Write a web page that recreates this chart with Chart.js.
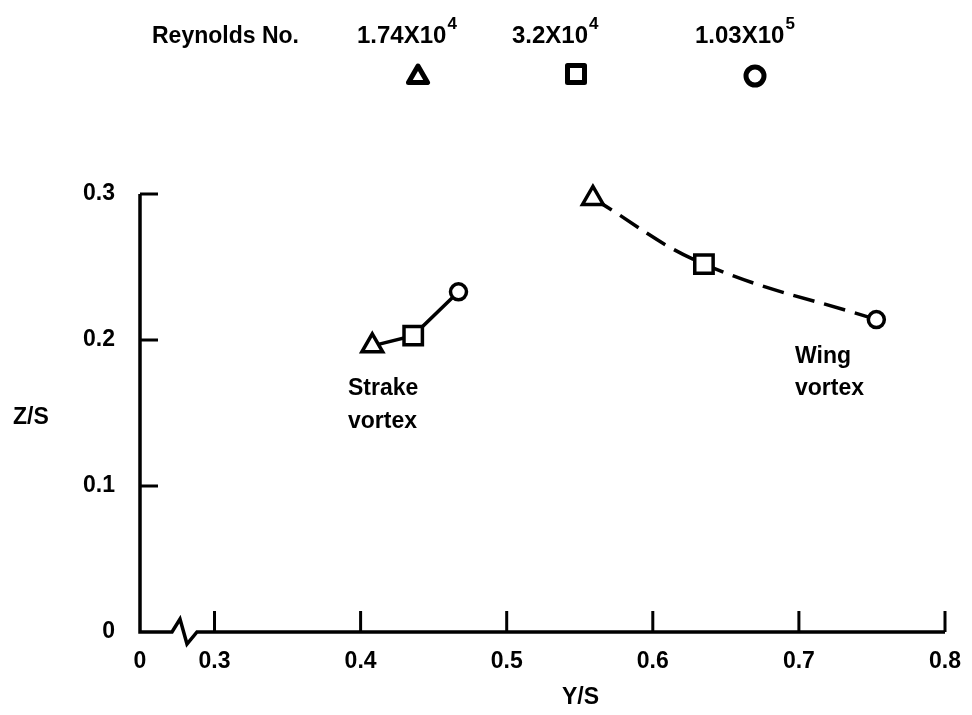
<!DOCTYPE html>
<html>
<head>
<meta charset="utf-8">
<script src="https://cdn.jsdelivr.net/npm/chart.js@4/dist/chart.umd.min.js"></script>
<style>
html, body { margin: 0; padding: 0; background: #fff; }
#wrap { width: 972px; height: 715px; position: relative; }
</style>
</head>
<body>
<div id="wrap"><canvas id="chart"></canvas></div>
<script>
// Reynolds numbers shown in the legend, one marker each
var reynoldsBase = ["1.74X10", "3.2X10", "1.03X10"];
var reynoldsExp = ["4", "4", "5"];
var markerStyles = ["triangle", "rect", "circle"];

// vortex core positions (Y/S, Z/S), one point per Reynolds number
var strakeY = [0.408, 0.436, 0.467];
var strakeZ = [0.196, 0.203, 0.233];
var wingY = [0.559, 0.635, 0.753];
var wingZ = [0.297, 0.252, 0.214];

// axis ticks; x axis is broken, "0" sits at the break start
var xBreakValue = 0.249;
var xTicks = [0.3, 0.4, 0.5, 0.6, 0.7, 0.8];
var yTicks = [0, 0.1, 0.2, 0.3];

var FONT = '"Liberation Sans", Arial, Helvetica, sans-serif';

function toPoints(xs, ys) {
    return xs.map(function (x, i) { return { x: x, y: ys[i] }; });
}

function drawMarker(ctx, style, x, y, r, lw) {
    ctx.save();
    ctx.lineWidth = lw;
    ctx.strokeStyle = "#000";
    ctx.fillStyle = "#fff";
    ctx.lineJoin = "round";
    ctx.beginPath();
    if (style === "triangle") {
        for (var i = 0; i < 3; i++) {
            var a = i * 2 * Math.PI / 3;
            var px = x + Math.sin(a) * r, py = y - Math.cos(a) * r;
            if (i) ctx.lineTo(px, py); else ctx.moveTo(px, py);
        }
        ctx.closePath();
    } else if (style === "rect") {
        ctx.rect(x - r, y - r, 2 * r, 2 * r);
    } else {
        ctx.arc(x, y, r, 0, 2 * Math.PI);
    }
    ctx.fill();
    ctx.stroke();
    ctx.restore();
}

var decorations = {
    id: "decorations",
    afterDraw: function (chart) {
        var ctx = chart.ctx, xs = chart.scales.x, ys = chart.scales.y;
        var x0 = xs.left, y0 = ys.bottom;
        ctx.save();
        ctx.strokeStyle = "#000";
        ctx.lineWidth = 3.5;
        ctx.lineJoin = "miter";

        // axes, with the break on the x axis
        ctx.beginPath();
        ctx.moveTo(x0, ys.getPixelForValue(0.3));
        ctx.lineTo(x0, y0);
        ctx.lineTo(x0 + 32, y0);
        ctx.lineTo(x0 + 40, y0 - 13);
        ctx.lineTo(x0 + 47, y0 + 12);
        ctx.lineTo(x0 + 57, y0);
        ctx.lineTo(xs.right, y0);
        ctx.stroke();

        // inward tick marks
        ctx.lineWidth = 3;
        ctx.beginPath();
        xTicks.forEach(function (v) {
            var px = xs.getPixelForValue(v);
            ctx.moveTo(px, y0);
            ctx.lineTo(px, y0 - 21);
        });
        yTicks.slice(1).forEach(function (v) {
            var py = ys.getPixelForValue(v);
            ctx.moveTo(x0, py);
            ctx.lineTo(x0 + 18, py);
        });
        ctx.stroke();

        // text
        ctx.fillStyle = "#000";
        ctx.textBaseline = "alphabetic";
        ctx.textAlign = "left";
        ctx.font = "bold 23px " + FONT;
        ctx.fillText("Z/S", 13, 424);
        ctx.fillText("Y/S", 562, 704);
        ctx.fillText("Strake", 348, 395);
        ctx.fillText("vortex", 348, 428);
        ctx.fillText("Wing", 795, 363);
        ctx.fillText("vortex", 795, 395);

        // legend
        ctx.fillText("Reynolds No.", 152, 43);
        var legendX = [357, 512, 695];
        var markerX = [418, 576, 755];
        reynoldsBase.forEach(function (txt, i) {
            ctx.font = "bold 24px " + FONT;
            ctx.fillText(txt, legendX[i], 43);
            var w = ctx.measureText(txt).width;
            ctx.font = "bold 17px " + FONT;
            ctx.fillText(reynoldsExp[i], legendX[i] + w + 1, 29);
        });
        drawMarker(ctx, "triangle", markerX[0], 77, 11, 5);
        drawMarker(ctx, "rect", markerX[1], 74, 8.5, 5);
        drawMarker(ctx, "circle", markerX[2], 76, 9, 5);

        ctx.restore();
    }
};

var markerRadius = [12, 13, 8];

new Chart(document.getElementById("chart"), {
    type: "scatter",
    data: {
        datasets: [{
            label: "Strake vortex",
            data: toPoints(strakeY, strakeZ),
            showLine: true,
            borderColor: "#000",
            borderWidth: 3.5,
            tension: 0,
            pointStyle: markerStyles,
            pointRadius: markerRadius,
            pointBackgroundColor: "#fff",
            pointBorderColor: "#000",
            pointBorderWidth: 3.5,
            clip: false
        }, {
            label: "Wing vortex",
            data: toPoints(wingY, wingZ),
            showLine: true,
            borderColor: "#000",
            borderWidth: 3.5,
            borderDash: [22, 10],
            tension: 0.4,
            pointStyle: markerStyles,
            pointRadius: markerRadius,
            pointBackgroundColor: "#fff",
            pointBorderColor: "#000",
            pointBorderWidth: 3.5,
            clip: false
        }]
    },
    options: {
        responsive: true,
        maintainAspectRatio: false,
        animation: false,
        layout: { padding: { left: 80, right: 27, top: 194, bottom: 33 } },
        plugins: { legend: { display: false }, tooltip: { enabled: false } },
        scales: {
            x: {
                type: "linear",
                min: xBreakValue,
                max: 0.8,
                grid: { display: false },
                border: { display: false },
                afterBuildTicks: function (axis) {
                    axis.ticks = [xBreakValue].concat(xTicks).map(function (v) { return { value: v }; });
                },
                afterFit: function (axis) { axis.height = 50; },
                ticks: {
                    autoSkip: false,
                    maxRotation: 0,
                    padding: 8,
                    color: "#000",
                    font: { family: FONT, size: 23, weight: "bold" },
                    callback: function (v) { return v === xBreakValue ? "0" : v.toFixed(1); }
                }
            },
            y: {
                type: "linear",
                min: 0,
                max: 0.3,
                grid: { display: false },
                border: { display: false },
                afterBuildTicks: function (axis) {
                    axis.ticks = yTicks.map(function (v) { return { value: v }; });
                },
                afterFit: function (axis) { axis.width = 60; },
                ticks: {
                    autoSkip: false,
                    padding: 17,
                    color: "#000",
                    font: { family: FONT, size: 23, weight: "bold" },
                    callback: function (v) { return v === 0 ? "0" : v.toFixed(1); }
                }
            }
        }
    },
    plugins: [decorations]
});
</script>
</body>
</html>
